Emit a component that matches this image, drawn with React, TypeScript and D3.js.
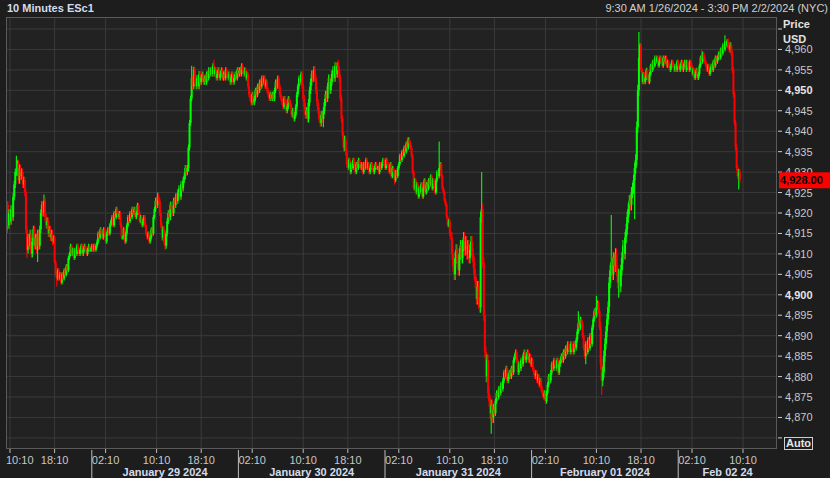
import React from "react";
import * as d3 from "d3";

// ---- data (10-minute closes, ESc1) ----
const firstOpen = 4922;
const closes: number[] = [
  4916, 4922, 4917, 4920, 4918, 4921, 4919, 4924, 4927, 4930,
  4930, 4932, 4928, 4931, 4929, 4930, 4927, 4928, 4925, 4916,
  4911, 4914, 4912, 4915, 4910, 4913, 4916, 4912, 4914, 4911,
  4915, 4912, 4916, 4920, 4922, 4920, 4923, 4919, 4917, 4918,
  4915, 4916, 4914, 4915, 4913, 4914, 4908, 4905, 4904, 4906,
  4904, 4905, 4903, 4905, 4904, 4906, 4905, 4907, 4906, 4909,
  4910, 4912, 4910, 4911, 4909, 4911, 4910, 4912, 4911, 4910,
  4911, 4912, 4910, 4911, 4912, 4911, 4910, 4911, 4912, 4911,
  4911, 4912, 4911, 4912, 4911, 4912, 4913, 4915, 4914, 4916,
  4915, 4914, 4916, 4915, 4913, 4915, 4916, 4915, 4917, 4918,
  4919, 4917, 4920, 4919, 4921, 4920, 4919, 4920, 4917, 4914,
  4914, 4916, 4913, 4915, 4917, 4919, 4918, 4920, 4919, 4921,
  4920, 4921, 4919, 4920, 4922, 4920, 4918, 4919, 4917, 4918,
  4919, 4917, 4915, 4914, 4915, 4913, 4914, 4916, 4915, 4919,
  4921, 4923, 4922, 4924, 4923, 4920, 4917, 4914, 4916, 4913,
  4912, 4915, 4918, 4920, 4919, 4922, 4921, 4920, 4923, 4922,
  4924, 4923, 4925, 4926, 4924, 4927, 4926, 4928, 4929, 4931,
  4930, 4931, 4936, 4942, 4948, 4953, 4951, 4955, 4952, 4951,
  4953, 4951, 4954, 4952, 4953, 4954, 4952, 4953, 4952, 4954,
  4953, 4955, 4954, 4955, 4954, 4956, 4954, 4955, 4953, 4954,
  4955, 4953, 4954, 4955, 4953, 4954, 4953, 4955, 4954, 4953,
  4954, 4952, 4953, 4954, 4952, 4953, 4954, 4953, 4955, 4954,
  4955, 4954, 4956, 4955, 4954, 4955, 4953, 4954, 4951, 4949,
  4948, 4947, 4949, 4947, 4948, 4950, 4949, 4951, 4950, 4952,
  4951, 4953, 4952, 4953, 4951, 4952, 4950, 4949, 4948, 4949,
  4948, 4949, 4948, 4950, 4952, 4951, 4953, 4951, 4949, 4948,
  4947, 4946, 4948, 4947, 4945, 4946, 4948, 4947, 4946, 4944,
  4945, 4943, 4944, 4946, 4949, 4951, 4953, 4952, 4954, 4951,
  4948, 4946, 4944, 4945, 4943, 4947, 4950, 4952, 4954, 4953,
  4955, 4953, 4950, 4947, 4945, 4943, 4942, 4944, 4943, 4945,
  4947, 4949, 4948, 4951, 4953, 4950, 4952, 4954, 4955, 4953,
  4956, 4954, 4956, 4955, 4953, 4948, 4943, 4939, 4936, 4938,
  4935, 4932, 4931, 4933, 4930, 4932, 4931, 4933, 4932, 4930,
  4932, 4931, 4933, 4932, 4931, 4932, 4930, 4932, 4931, 4933,
  4931, 4932, 4930, 4931, 4932, 4931, 4930, 4931, 4932, 4931,
  4931, 4930, 4932, 4931, 4932, 4933, 4932, 4931, 4933, 4932,
  4931, 4930, 4932, 4929, 4931, 4930, 4928, 4930, 4929, 4931,
  4932, 4934, 4933, 4935, 4934, 4936, 4935, 4937, 4936, 4938,
  4937, 4936, 4934, 4930, 4926, 4928, 4925, 4927, 4924, 4926,
  4925, 4927, 4924, 4926, 4928, 4925, 4927, 4926, 4928, 4927,
  4929, 4926, 4928, 4927, 4925, 4928, 4930, 4929, 4931, 4932,
  4929, 4926, 4925, 4923, 4922, 4919, 4917, 4918, 4915, 4914,
  4910, 4907, 4905, 4909, 4911, 4908, 4906, 4910, 4912, 4909,
  4912, 4914, 4911, 4913, 4910, 4912, 4909, 4911, 4913, 4910,
  4908, 4905, 4903, 4899, 4902, 4898, 4897, 4919, 4921, 4908,
  4895, 4886, 4880, 4884, 4876, 4874, 4871, 4873, 4870, 4872,
  4871, 4874, 4876, 4875, 4877, 4876, 4878, 4877, 4879, 4881,
  4880, 4882, 4879, 4880, 4881, 4880, 4882, 4881, 4884, 4885,
  4886, 4884, 4881, 4883, 4882, 4884, 4883, 4885, 4886, 4884,
  4885, 4886, 4884, 4885, 4883, 4884, 4882, 4881, 4880, 4881,
  4879, 4880, 4878, 4879, 4877, 4876, 4875, 4876, 4874, 4876,
  4878, 4880, 4879, 4881, 4883, 4882, 4884, 4883, 4882, 4884,
  4881, 4883, 4884, 4885, 4884, 4886, 4885, 4887, 4886, 4888,
  4887, 4886, 4888, 4887, 4886, 4888, 4887, 4889, 4891, 4893,
  4892, 4894, 4893, 4890, 4887, 4885, 4888, 4886, 4889, 4887,
  4890, 4888, 4892, 4894, 4896, 4895, 4897, 4898, 4896, 4892,
  4883, 4879, 4881, 4885, 4888, 4891, 4894, 4897, 4903, 4906,
  4908, 4905, 4909, 4907, 4910, 4906, 4903, 4905, 4902, 4906,
  4909, 4912, 4910, 4914, 4916, 4919, 4921, 4923, 4922, 4925,
  4926, 4928, 4931, 4933, 4941, 4950, 4958, 4961, 4955, 4952,
  4954, 4952, 4953, 4955, 4953, 4952, 4954, 4956, 4955, 4957,
  4956, 4958, 4957, 4958, 4956, 4957, 4958, 4957, 4956, 4958,
  4957, 4958, 4956, 4957, 4956, 4955, 4956, 4957, 4956, 4955,
  4956, 4955, 4957, 4956, 4955, 4956, 4957, 4955, 4956, 4957,
  4955, 4957, 4956, 4955, 4957, 4956, 4954, 4955, 4953, 4954,
  4955, 4953, 4954, 4956, 4958, 4957, 4959, 4958, 4957, 4956,
  4955, 4956, 4954, 4955, 4956, 4955, 4957, 4956, 4958, 4957,
  4958, 4959, 4958, 4960, 4959, 4961, 4960, 4962, 4961, 4962,
  4961, 4960, 4961, 4959, 4955, 4949, 4942, 4936, 4931, 4929,
  4930, 4928,
];
// notable wick extremes: [bar index, price]
const wickHighs: [number, number][] = [
  [0, 4925], [10, 4934], [36, 4924.5], [143, 4925], [175, 4956], [196, 4957.5],
  [313, 4957.5], [378, 4938.5], [408, 4937.5], [448, 4930], [539, 4896],
  [556, 4899.75], [570, 4919.5], [596, 4964.25], [655, 4960], [677, 4963.5],
];
const wickLows: [number, number][] = [
  [0, 4913], [20, 4909], [30, 4908], [48, 4902], [150, 4911], [299, 4941],
  [366, 4927], [457, 4866], [546, 4883], [561, 4875.5], [577, 4899.25],
  [592, 4918.5], [690, 4925.75],
];
// typical wick length (points) per session stretch: [first bar index, points]
const typicalWick: [number, number][] = [
  [0, 1.75], [45, 1.0], [141, 1.5], [184, 1.25], [280, 1.75], [322, 1.0],
  [420, 2.75], [460, 1.25], [560, 2.75], [597, 1.0], [680, 1.5],
];
const lastPrice = 4928.0;
const priceTicks = [4865, 4870, 4875, 4880, 4885, 4890, 4895, 4900, 4905, 4910, 4915,
  4920, 4925, 4930, 4935, 4940, 4945, 4950, 4955, 4960, 4965];
const timeTickHours = [2, 10, 18];
const dateLabels = ["January 29 2024", "January 30 2024", "January 31 2024", "February 01 2024", "Feb 02 24"];
const title = "10 Minutes ESc1";
const rangeText = "9:30 AM 1/26/2024 - 3:30 PM 2/2/2024 (NYC)";

// ---- trading-session bar times (10 min, Globex hours, NY) ----
function buildBarTimes(): Date[] {
  const out: Date[] = [];
  const start = Date.UTC(2024, 0, 26, 9, 30);
  const end = Date.UTC(2024, 1, 2, 15, 30);
  for (let t = start; t < end; t += 600000) {
    const d = new Date(t);
    const day = d.getUTCDay();
    const h = d.getUTCHours();
    if (day === 6) continue;
    if (day === 5 && h >= 17) continue;
    if (day === 0 && h < 18) continue;
    if (h === 17) continue;
    out.push(d);
  }
  return out;
}

const W = 830, H = 478;
const PL = 6, PR = 777, PT = 17, PB = 449;
const FONT = "'Liberation Sans', Arial, sans-serif";

export default function App() {
  const times = buildBarTimes();
  const x = d3.scaleLinear().domain([0, times.length]).range([5.75, PR]);
  const y = d3.scaleLinear().domain([4865, 4965]).range([437.9, 29]);

  const hiMap = new Map(wickHighs);
  const loMap = new Map(wickLows);
  const wickAt = (i: number) => {
    let w = typicalWick[0][1];
    for (const [s, v] of typicalWick) if (i >= s) w = v;
    return w;
  };
  const candles = closes.map((c, i) => {
    const o = i === 0 ? firstOpen : closes[i - 1];
    const w = wickAt(i);
    let hi = Math.max(o, c) + w / 2, lo = Math.min(o, c) - w / 2;
    if (hiMap.has(i)) hi = Math.max(hi, hiMap.get(i)!);
    if (loMap.has(i)) lo = Math.min(lo, loMap.get(i)!);
    return { i, o, c, hi, lo, up: c >= o };
  });

  const timeTicks = times
    .map((d, i) => ({ d, i }))
    .filter(({ d }) => d.getUTCMinutes() === 10 && timeTickHours.includes(d.getUTCHours()));
  const seps = times
    .map((d, i) => ({ d, i }))
    .filter(({ d }) => d.getUTCHours() === 0 && d.getUTCMinutes() === 0);

  const fmtP = d3.format(",");
  const pad = (n: number) => String(n).padStart(2, "0");

  return (
    <svg width={W} height={H} style={{ position: "absolute", left: 0, top: 0, background: "#1d1d1d" }} fontFamily={FONT}>
      <rect x={0} y={0} width={W} height={H} fill="#1d1d1d" />
      <rect x={PL} y={PT} width={PR - PL} height={PB - PT} fill="#222222" />
      <defs>
        <clipPath id="plotclip">
          <rect x={PL} y={PT} width={PR - PL} height={PB - PT} />
        </clipPath>
      </defs>
      {/* grid */}
      {priceTicks.map((p) => (
        <line key={"g" + p} x1={PL} x2={PR} y1={y(p)} y2={y(p)} stroke="#3a3a3a" strokeWidth={1} />
      ))}
      {timeTicks.map(({ i }) => (
        <line key={"v" + i} x1={x(i)} x2={x(i)} y1={PT} y2={PB} stroke="#3a3a3a" strokeWidth={1} />
      ))}
      {/* candles */}
      <g clipPath="url(#plotclip)">
        {candles.map((k) => {
          const cx = x(k.i);
          const col = k.up ? "#00ff00" : "#ff0000";
          const top = y(Math.max(k.o, k.c));
          const bot = y(Math.min(k.o, k.c));
          return (
            <g key={k.i}>
              <line x1={cx} x2={cx} y1={y(k.hi)} y2={y(k.lo)} stroke={col} strokeWidth={1.1} />
              <rect x={cx - 1} y={top} width={2} height={Math.max(1, bot - top)} fill={col} />
            </g>
          );
        })}
      </g>
      {/* plot frame */}
      <rect x={PL + 0.5} y={PT + 0.5} width={PR - PL - 1} height={PB - PT - 1} fill="none" stroke="#5a5a5a" strokeWidth={1} />

      {/* header */}
      <text x={7} y={12} fontSize={11} fontWeight="bold" fill="#d2dcec">{title}</text>
      <text x={828} y={12} fontSize={11} textAnchor="end" fill="#cfcfcf">{rangeText}</text>
      <text x={783} y={28} fontSize={11} fontWeight="bold" fill="#e2e2e2">Price</text>
      <text x={783} y={43} fontSize={11} fontWeight="bold" fill="#e2e2e2">USD</text>

      {/* price axis */}
      {priceTicks.map((p) => (
        <g key={"t" + p}>
          <line x1={778} x2={782} y1={y(p)} y2={y(p)} stroke="#cfcfcf" />
          {p >= 4870 && p <= 4960 && (
            <text x={785} y={y(p)} dy="0.36em" fontSize={11}
              fontWeight={p % 50 === 0 ? "bold" : "normal"}
              fill={p % 50 === 0 ? "#e6e6e6" : "#c8c8c8"}>{fmtP(p)}</text>
          )}
        </g>
      ))}
      {/* last price */}
      <rect x={779} y={y(lastPrice) - 8} width={51} height={16} fill="#ff0000" />
      <text x={780} y={y(lastPrice)} dy="0.36em" fontSize={11} fontWeight="bold" fill="#000">{d3.format(",.2f")(lastPrice)}</text>
      {/* Auto */}
      <rect x={784.5} y={437.5} width={28} height={12} fill="none" stroke="#cfcfcf" />
      <text x={798.5} y={447} fontSize={11} fontWeight="bold" textAnchor="middle" fill="#e6e6e6">Auto</text>

      {/* time axis */}
      {timeTicks.map(({ d, i }) => {
        const cx = x(i);
        const label = pad(d.getUTCHours()) + ":" + pad(d.getUTCMinutes());
        const atEdge = cx < 20;
        return (
          <g key={"tt" + i}>
            <line x1={cx} x2={cx} y1={PB} y2={PB + 4} stroke="#bdbdbd" />
            <text x={atEdge ? 6 : cx} y={464} fontSize={11} textAnchor={atEdge ? "start" : "middle"} fill="#c8c8c8">{label}</text>
          </g>
        );
      })}
      {seps.map(({ i }, k) => {
        const sx = x(i);
        const nx = k + 1 < seps.length ? x(seps[k + 1].i) : PR;
        return (
          <g key={"s" + i}>
            <line x1={sx} x2={sx} y1={PB + 1} y2={H} stroke="#bdbdbd" />
            <text x={(sx + nx) / 2} y={476} fontSize={11} fontWeight="bold" textAnchor="middle" fill="#d2dcec">{dateLabels[k]}</text>
          </g>
        );
      })}
    </svg>
  );
}
